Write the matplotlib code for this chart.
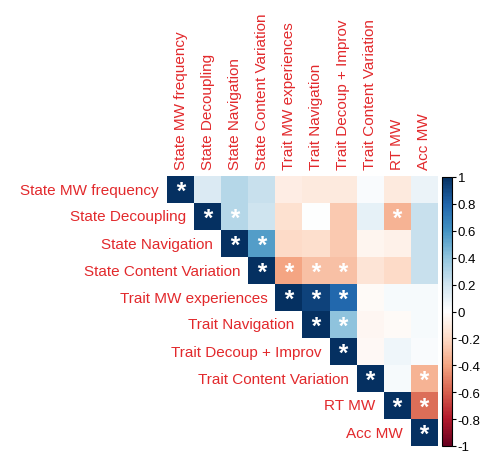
import numpy as np
import matplotlib
matplotlib.use("Agg")
import matplotlib.pyplot as plt
from matplotlib.colors import LinearSegmentedColormap, Normalize
from matplotlib.textpath import TextPath
from matplotlib.font_manager import FontProperties
from matplotlib.path import Path
import matplotlib.cm as cm

labels = ["State MW frequency", "State Decoupling", "State Navigation",
          "State Content Variation", "Trait MW experiences", "Trait Navigation",
          "Trait Decoup + Improv", "Trait Content Variation", "RT MW", "Acc MW"]

# upper-triangle rows (from diagonal to the right)
row0 = [1.00, 0.16, 0.28, 0.22, -0.10, -0.12, -0.12, 0.02, -0.12, 0.08]
row1 = [1.00, 0.28, 0.20, -0.17, 0.00, -0.27, 0.10, -0.35, 0.22]
row2 = [1.00, 0.55, -0.20, -0.18, -0.27, -0.06, -0.08, 0.22]
row3 = [1.00, -0.40, -0.30, -0.30, -0.15, -0.20, 0.22]
row4 = [1.00, 0.92, 0.78, -0.03, 0.03, 0.03]
row5 = [1.00, 0.40, -0.05, -0.03, 0.03]
row6 = [1.00, -0.04, 0.06, 0.02]
row7 = [1.00, 0.03, -0.35]
row8 = [1.00, -0.55]
row9 = [1.00]
rows = [row0, row1, row2, row3, row4, row5, row6, row7, row8, row9]

# significance flags (same layout)
sig0 = [1, 0, 0, 0, 0, 0, 0, 0, 0, 0]
sig1 = [1, 1, 0, 0, 0, 0, 0, 1, 0]
sig2 = [1, 1, 0, 0, 0, 0, 0, 0]
sig3 = [1, 1, 1, 1, 0, 0, 0]
sig4 = [1, 1, 1, 0, 0, 0]
sig5 = [1, 1, 0, 0, 0]
sig6 = [1, 0, 0, 0]
sig7 = [1, 0, 1]
sig8 = [1, 1]
sig9 = [1]
sigs = [sig0, sig1, sig2, sig3, sig4, sig5, sig6, sig7, sig8, sig9]

n = len(labels)
M = np.full((n, n), np.nan)
S = np.zeros((n, n), dtype=bool)
for i in range(n):
    for k, v in enumerate(rows[i]):
        M[i, i + k] = v
        S[i, i + k] = bool(sigs[i][k])

cols = ["#67001F", "#B2182B", "#D6604D", "#F4A582", "#FDDBC7", "#FFFFFF",
        "#D1E5F0", "#92C5DE", "#4393C3", "#2166AC", "#053061"]
cmap = LinearSegmentedColormap.from_list("rdbu", cols, N=200)
norm = Normalize(-1, 1)

plt.rcParams['font.family'] = ['Liberation Sans', 'DejaVu Sans']

W, H = 482, 456
fig = plt.figure(figsize=(W / 100, H / 100), dpi=100)
x0, x1, y0, y1 = 167, 438, 177, 447
ax = fig.add_axes([x0 / W, 1 - y1 / H, (x1 - x0) / W, (y1 - y0) / H])
ax.imshow(np.ma.masked_invalid(M), cmap=cmap, norm=norm, aspect='auto',
          interpolation='nearest', extent=(-0.5, n - 0.5, n - 0.5, -0.5))
ax.set_xlim(-0.5, n - 0.5)
ax.set_ylim(n - 0.5, -0.5)
ax.axis('off')

lab_col = '#E2292C'
for i, lab in enumerate(labels):
    ax.text(i - 0.5 - 0.3, i, lab, ha='right', va='center', color=lab_col,
            fontsize=11, clip_on=False)
    ax.text(i, -0.5 - 0.25, lab, ha='center', va='bottom', rotation=90,
            color=lab_col, fontsize=11, clip_on=False)

# asterisk marker centered on its ink
tp = TextPath((0, 0), '*', prop=FontProperties(family='Liberation Sans', weight='bold'))
v = tp.vertices.copy()
mn, mx = v.min(axis=0), v.max(axis=0)
v = v - (mn + mx) / 2
star = Path(v, tp.codes)
yy, xx = np.where(S)
ax.scatter(xx, yy, marker=star, s=150, color='white', linewidths=0, zorder=3)

# colorbar
cax = fig.add_axes([442 / W, 1 - 447 / H, 10 / W, (447 - 178) / H])
sm = cm.ScalarMappable(norm=norm, cmap=cmap)
tks = np.round(np.arange(-1, 1.01, 0.2), 1)
cb = fig.colorbar(sm, cax=cax, ticks=tks)
cb.ax.set_yticklabels([("%g" % t) if abs(t) > 1e-9 else "0" for t in tks])
cb.ax.tick_params(labelsize=9.5, length=3, width=0.8, pad=1)
cb.outline.set_linewidth(0.8)

fig.savefig("out.png", dpi=100)
